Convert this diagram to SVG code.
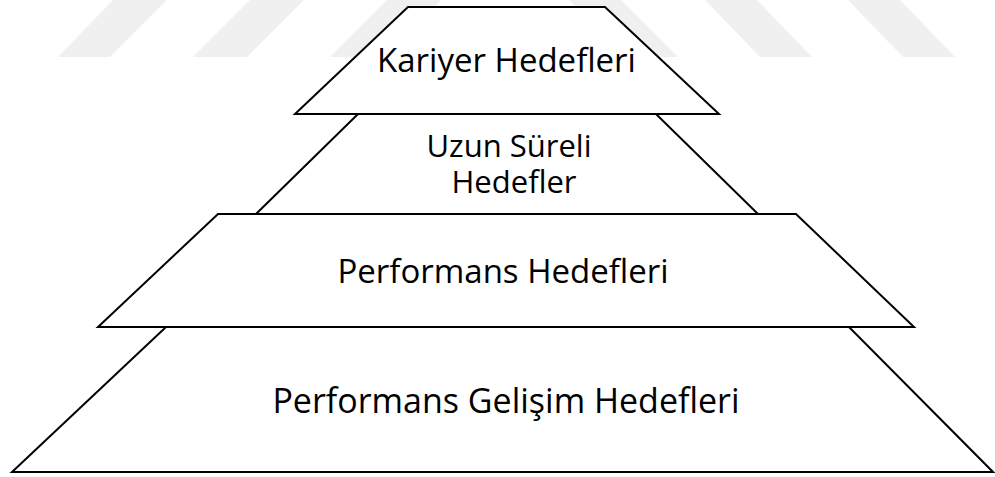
<svg xmlns="http://www.w3.org/2000/svg" width="995" height="477" viewBox="0 0 995 477">
<style>
.wm{fill:#f0f0f0;stroke:none}
.lvl{fill:#ffffff;stroke:#000000;stroke-width:2;stroke-linejoin:miter}
.lbl{font-family:"Open Sans","Noto Sans","Liberation Sans",sans-serif;fill:#000000;text-anchor:middle}
</style>
<rect width="995" height="477" fill="#ffffff"/>
<g id="watermark">
<polygon class="wm" points="58,57 110,57 167,0 113,0"/>
<polygon class="wm" points="193,57 247,57 304,0 250,0"/>
<polygon class="wm" points="330,57 384,57 441,0 387,0"/>
<polygon class="wm" points="626,57 678,57 621,0 569,0"/>
<polygon class="wm" points="760,57 812,57 757,0 705,0"/>
<polygon class="wm" points="903,57 955,57 900,0 848,0"/>
</g>
<g id="connectors"></g>
<g id="level4">
<polygon class="lvl" points="166,327 849,327 993,472 12,472"/>
<text class="lbl" x="506" y="413" font-size="34">Performans Gelişim Hedefleri</text>
</g>
<g id="level3">
<polygon class="lvl" points="218,214 796,214 914,327 98,327"/>
<text class="lbl" x="503" y="283" font-size="33">Performans Hedefleri</text>
</g>
<g id="level2">
<polygon class="lvl" points="358,114 656,114 758,214 256,214"/>
<text class="lbl" font-size="31"><tspan x="509" y="157">Uzun Süreli</tspan><tspan x="514" y="192.5">Hedefler</tspan></text>
</g>
<g id="level1">
<polygon class="lvl" points="408,7 605,7 719,114 295,114"/>
<text class="lbl" x="506.5" y="71.5" font-size="33">Kariyer Hedefleri</text>
</g>
</svg>
